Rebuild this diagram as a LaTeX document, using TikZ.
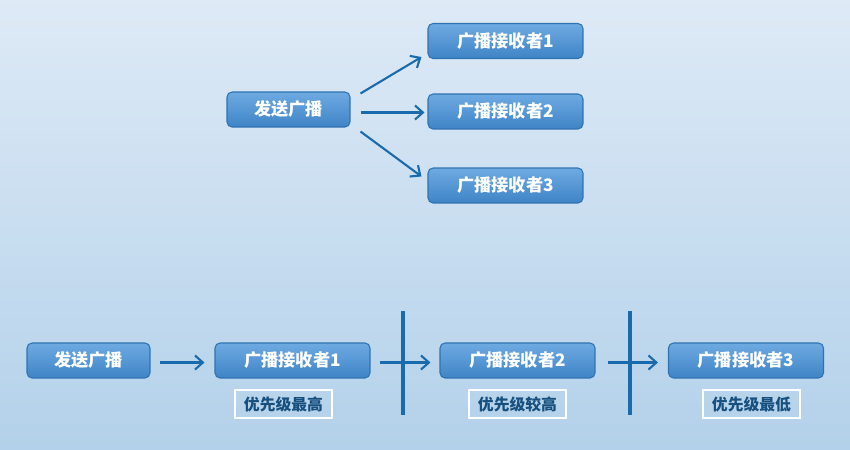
\documentclass[tikz,border=0pt]{standalone}
\usepackage{fontspec}
\usepackage{xcolor}
\usetikzlibrary{arrows.meta}
\newfontfamily\cjk{Noto Sans CJK SC}

\definecolor{bgtop}{HTML}{DEEAF6}
\definecolor{bgbot}{HTML}{B3D1EA}
\definecolor{boxtop}{HTML}{6EAAE2}
\definecolor{boxbot}{HTML}{3F84C6}
\definecolor{boxline}{HTML}{2F72B2}
\definecolor{arrowblue}{HTML}{1A6BAD}
\definecolor{tagtext}{HTML}{17507F}

\begin{document}
\begin{tikzpicture}[x=0.02cm, y=-0.02cm,
    sendbox/.style={draw=boxline, line width=0.6pt, rounded corners=0.1cm,
        top color=boxtop, bottom color=boxbot, text=white,
        font=\cjk\bfseries\fontsize{9.8pt}{11pt}\selectfont,
        minimum width=2.46cm, minimum height=0.7cm, inner sep=0pt},
    recvbox/.style={sendbox, minimum width=3.1cm},
    tagbox/.style={draw=white, line width=0.6pt, text=tagtext,
        font=\cjk\bfseries\fontsize{9pt}{10pt}\selectfont,
        minimum width=1.94cm, minimum height=0.56cm, inner sep=0pt},
    arr/.style={-{Straight Barb[length=4.5pt, width=8pt]}, line width=1.2pt, arrowblue},
    bar/.style={line width=1.8pt, arrowblue}]

    % Background
    \shade[top color=bgtop, bottom color=bgbot] (0,0) rectangle (850,450);
    \useasboundingbox (0,0) rectangle (850,450);

    % Top: one sender, three receivers at once
    \node[sendbox] (send) at (288.5,109.5) {发送广播};
    \node[recvbox] (recvA) at (505.5,41) {广播接收者1};
    \node[recvbox] (recvB) at (505.5,111.5) {广播接收者2};
    \node[recvbox] (recvC) at (505.5,185.5) {广播接收者3};

    \draw[arr] ([shift={(10,2)}]send.north east) -- ([shift={(-6,-2)}]recvA.south west);
    \draw[arr] ([shift={(10,3)}]send.east) -- ([shift={(-3,1)}]recvB.west);
    \draw[arr] ([shift={(10,4)}]send.south east) -- ([shift={(-6,9)}]recvC.north west);

    % Bottom: ordered receivers
    \node[sendbox] (osend) at (88.5,360.5) {发送广播};
    \node[recvbox] (orecvA) at (292.5,360.5) {广播接收者1};
    \node[recvbox] (orecvB) at (517.5,360.5) {广播接收者2};
    \node[recvbox] (orecvC) at (746,360.5) {广播接收者3};

    \node[tagbox] (tagA) at (283.5,404) {优先级最高};
    \node[tagbox] (tagB) at (517.5,404) {优先级较高};
    \node[tagbox] (tagC) at (751.5,404) {优先级最低};

    \draw[arr] ([shift={(9,2)}]osend.east) -- ([shift={(-10,2)}]orecvA.west);
    \draw[arr] ([shift={(9,2)}]orecvA.east) -- ([shift={(-9,2)}]orecvB.west);
    \draw[arr] ([shift={(12,2)}]orecvB.east) -- ([shift={(-10,2)}]orecvC.west);

    % Cut-off bars
    \coordinate (cutAtop) at (403,311);
    \coordinate (cutAbot) at (403,415);
    \coordinate (cutBtop) at (630,311);
    \coordinate (cutBbot) at (630,415);
    \draw[bar] (cutAtop) -- (cutAbot);
    \draw[bar] (cutBtop) -- (cutBbot);
\end{tikzpicture}
\end{document}
